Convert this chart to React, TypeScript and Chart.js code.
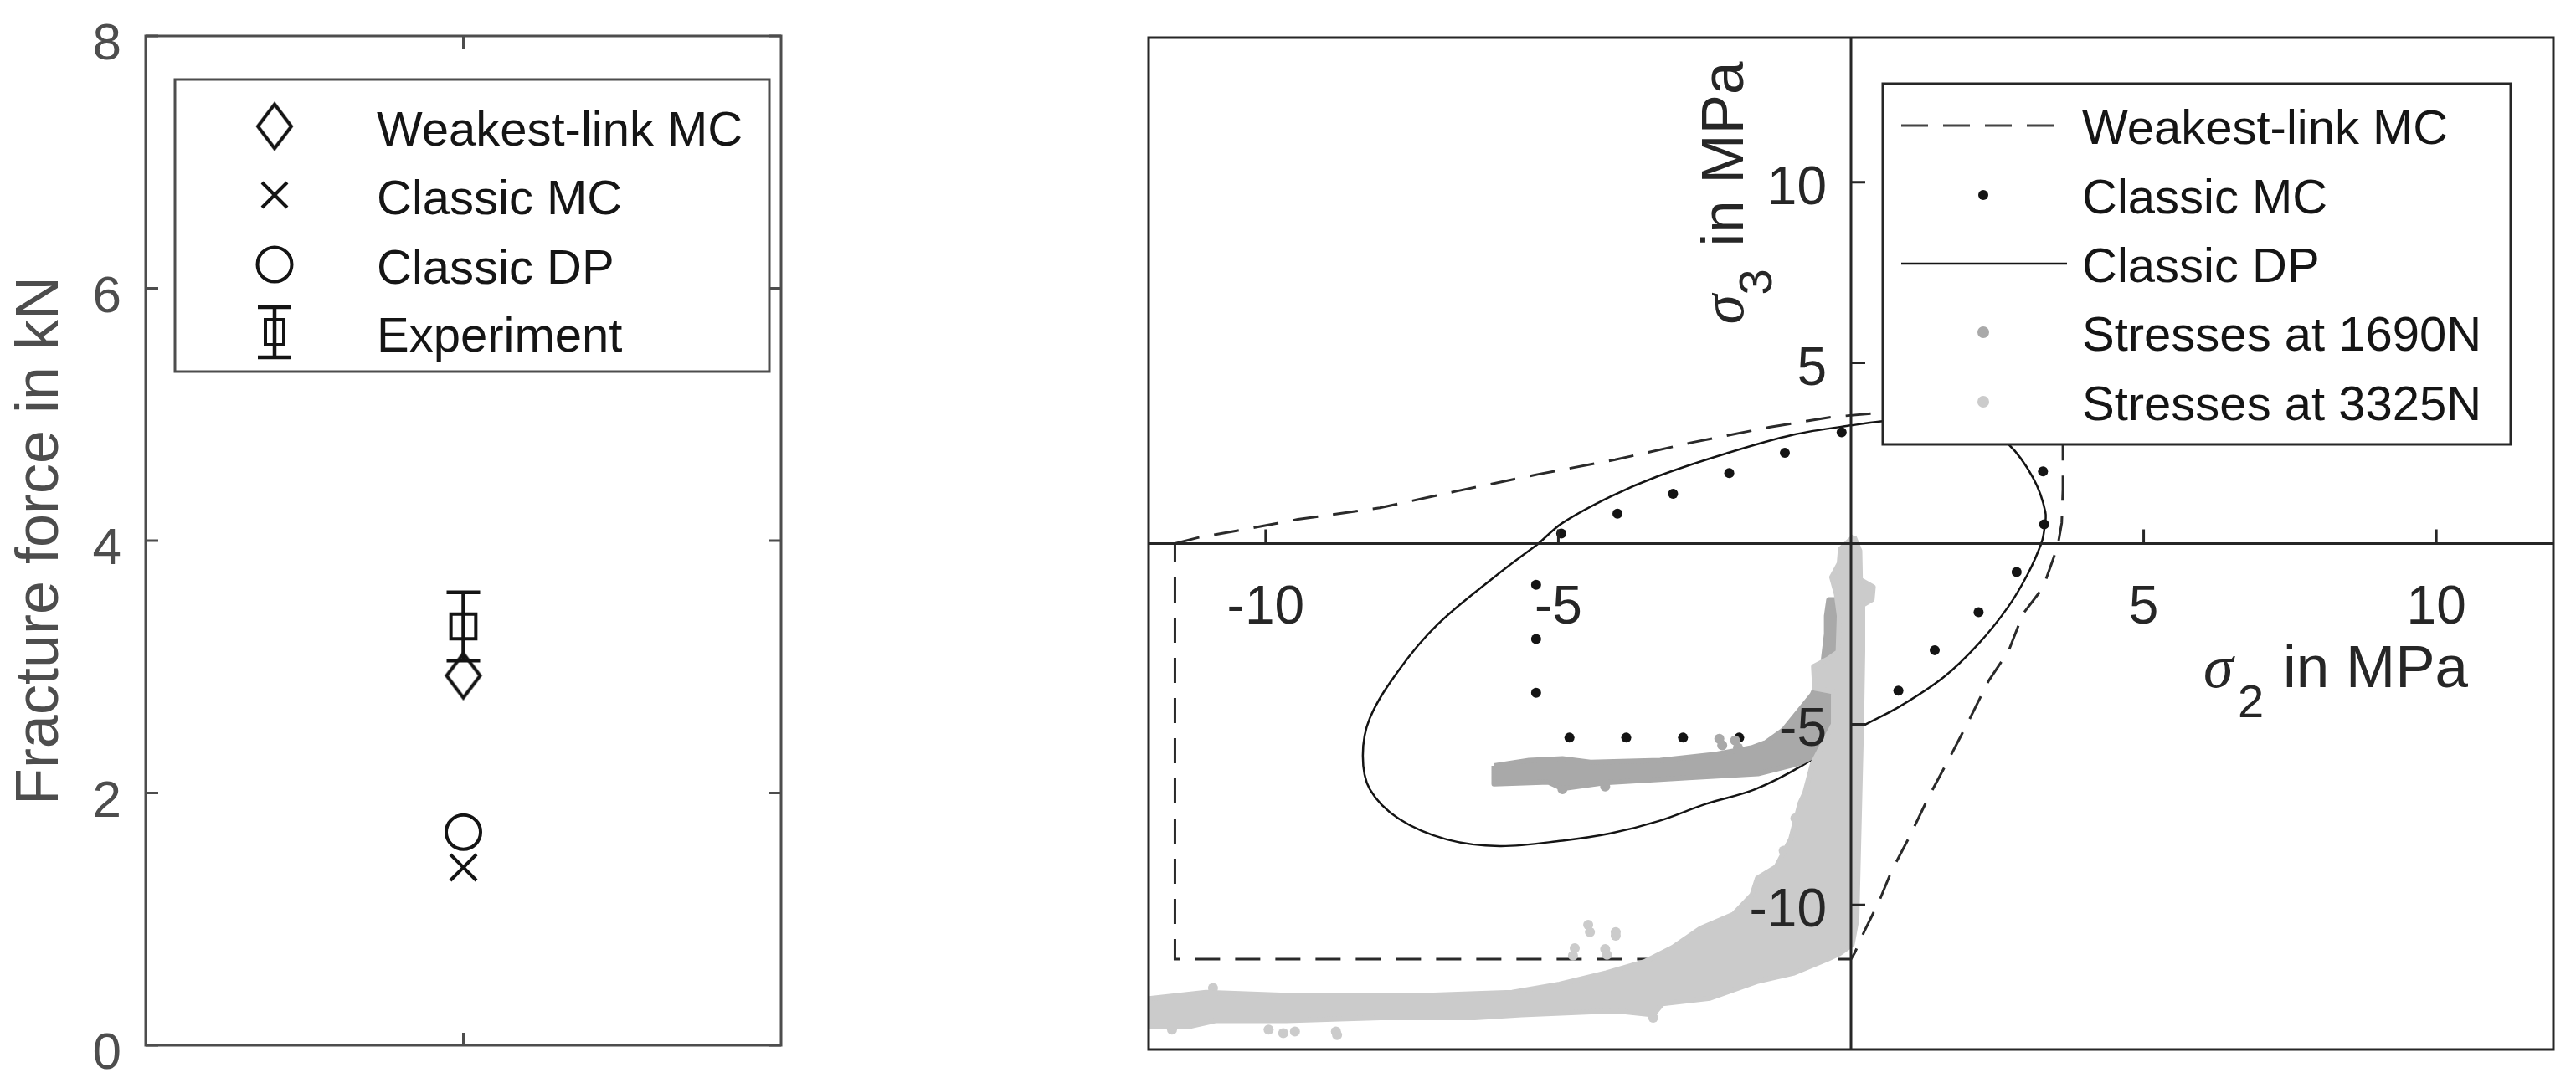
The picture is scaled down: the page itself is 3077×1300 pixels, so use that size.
import React, { useEffect, useRef } from 'react';
import { Chart, registerables } from 'chart.js';

Chart.register(...registerables);

// ================= Left panel: fracture forces (kN) =================
const leftCategory = [1];
const weakestLinkForce = [2.93];
const classicMCForce = [1.41];
const classicDPForce = [1.69];
const experimentForce = [3.32];
const experimentLow = [3.05];
const experimentHigh = [3.59];
const leftYTicks = [0, 2, 4, 6, 8];
const leftYTickLabels = ['0', '2', '4', '6', '8'];
const leftXTicks = [1];
const leftYTitle = 'Fracture force in kN';
const leftLegendLabels = ['Weakest-link MC', 'Classic MC', 'Classic DP', 'Experiment'];

// ================= Right panel: failure surfaces in sigma2-sigma3 plane (MPa) =================
const weakestLinkCurve: number[][] = [
  [-11.55, 0.0], [-11.17, 0.16], [-10.27, 0.42], [-9.45, 0.67], [-8.05, 0.99], [-6.74, 1.45],
  [-5.34, 1.92], [-4.03, 2.32], [-2.71, 2.8], [-1.4, 3.22], [-0.33, 3.5], [0.5, 3.62],
  [2.0, 3.65], [3.62, 3.65], [3.62, 2.6], [3.62, 1.5], [3.6, 0.57], [3.53, -0.08],
  [3.28, -1.22], [2.94, -1.94], [2.69, -2.98], [2.35, -3.8], [2.0, -4.94], [1.67, -5.97],
  [1.33, -7.0], [0.99, -8.14], [0.69, -9.07], [0.48, -9.9], [0.23, -10.72], [0.06, -11.34],
  [0.0, -11.5], [-11.55, -11.5], [-11.55, 0.0],
];

const classicMCPoints: number[][] = [
  [-4.95, 0.28], [-3.99, 0.83], [-3.04, 1.38], [-2.08, 1.95], [-1.13, 2.51], [-0.16, 3.08],
  [3.28, 2.0], [3.3, 0.53], [2.83, -0.79], [2.18, -1.9], [1.43, -2.95], [0.81, -4.07], [0.12, -5.25],
  [-5.38, -1.14], [-5.38, -2.64], [-5.38, -4.13],
  [-4.81, -5.37], [-3.84, -5.37], [-2.87, -5.37], [-1.91, -5.37], [-0.95, -5.37],
];

const classicDPCurve: number[][] = [
  [-5.34, 0.0], [-4.93, 0.57], [-4.11, 1.3], [-3.29, 1.87], [-2.14, 2.49], [-0.99, 3.01],
  [0.0, 3.27], [0.8, 3.42], [1.6, 3.4], [2.25, 3.15], [2.69, 2.75], [3.11, 1.82],
  [3.32, 0.88], [3.3, 0.36], [3.25, 0.0], [3.03, -0.81], [2.69, -1.74], [2.18, -2.77],
  [1.58, -3.7], [0.82, -4.52], [0.1, -5.14], [-0.82, -6.13], [-1.64, -6.8], [-2.47, -7.2],
  [-3.29, -7.68], [-4.11, -8.02], [-4.93, -8.22], [-6.0, -8.37], [-6.9, -8.19], [-7.72, -7.62],
  [-8.22, -6.8], [-8.34, -5.87], [-8.22, -4.83], [-7.72, -3.49], [-7.07, -2.25], [-6.08, -0.91],
  [-5.34, 0.0],
];

const stress1690Outline: number[][] = [
  [-6.1, -6.15], [-5.5, -6.0], [-4.93, -5.95], [-4.45, -6.05], [-3.26, -6.0], [-2.31, -5.83],
  [-1.7, -5.65], [-1.45, -5.5], [-1.15, -5.15], [-0.66, -4.17], [-0.5, -3.6], [-0.42, -2.5],
  [-0.42, -2.0], [-0.38, -1.55], [-0.17, -1.55], [-0.1, -2.5], [-0.1, -4.0], [-0.2, -5.0],
  [-0.3, -5.6], [-0.6, -5.85], [-0.88, -6.08], [-1.59, -6.37], [-2.78, -6.48], [-4.21, -6.62],
  [-4.93, -6.78], [-5.17, -6.6], [-6.1, -6.65], [-6.1, -6.15],
];
const stress1690Blobs: number[][] = [
  [-2.25, -5.4], [-2.2, -5.58], [-1.98, -5.45], [-1.93, -5.65], [-4.93, -6.8], [-4.2, -6.72],
  [-6.05, -6.3], [-5.95, -6.55], [-0.3, -1.7], [-0.28, -1.95],
];

const stress3325Outline: number[][] = [
  [0.05, 0.2], [0.15, -0.2], [0.16, -1.0], [0.38, -1.2], [0.36, -1.55], [0.2, -1.7],
  [0.2, -3.0], [0.18, -5.0], [0.15, -7.0], [0.12, -9.0], [0.1, -10.4], [0.02, -11.1],
  [-0.2, -11.35], [-0.4, -11.5], [-0.97, -11.88], [-1.61, -12.12], [-2.41, -12.58], [-3.22, -12.73],
  [-3.38, -13.04], [-4.02, -12.93], [-5.63, -13.04], [-6.43, -13.12], [-8.04, -13.12], [-9.65, -13.2],
  [-10.86, -13.2], [-11.26, -13.35], [-12.1, -13.35], [-12.1, -12.61], [-11.02, -12.42], [-9.65, -12.5],
  [-8.44, -12.5], [-7.23, -12.5], [-5.79, -12.42], [-4.98, -12.19], [-4.18, -11.88], [-3.53, -11.57],
  [-3.05, -11.18], [-2.57, -10.65], [-2.01, -10.26], [-1.69, -9.72], [-1.6, -9.26], [-1.28, -8.95],
  [-1.03, -8.18], [-0.87, -7.18], [-0.79, -6.9], [-0.66, -6.1], [-0.5, -5.6], [-0.3, -5.0],
  [-0.3, -4.1], [-0.62, -4.0], [-0.64, -3.4], [-0.4, -3.2], [-0.22, -3.0], [-0.2, -2.0],
  [-0.25, -1.4], [-0.33, -0.93], [-0.2, -0.54], [-0.18, -0.15], [0.05, 0.2],
];
const stress3325Blobs: number[][] = [
  [-4.49, -10.55], [-4.46, -10.75], [-4.02, -10.75], [-4.02, -10.85], [-4.72, -11.2], [-4.75, -11.4],
  [-4.2, -11.22], [-4.17, -11.38], [-9.95, -13.45], [-9.7, -13.55], [-9.5, -13.5], [-8.8, -13.5],
  [-8.78, -13.6], [-11.6, -13.45], [-3.38, -13.12], [-10.9, -12.3], [-0.95, -7.6], [-1.15, -8.5],
];

const rightXTicks = [-10, -5, 5, 10];
const rightXTickLabels = ['-10', '-5', '5', '10'];
const rightYTicks = [-10, -5, 5, 10];
const rightYTickLabels = ['-10', '-5', '5', '10'];
const sigmaSymbol = 'σ';
const xTitleSub = '2';
const yTitleSub = '3';
const titleUnit = 'in MPa';
const rightLegendLabels = ['Weakest-link MC', 'Classic MC', 'Classic DP', 'Stresses at 1690N', 'Stresses at 3325N'];

// ================= styles =================
const SANS = '"Liberation Sans", Arial, sans-serif';
const SERIF = '"Liberation Serif", "Times New Roman", serif';
const C_LEFT_AXIS = '#4d4d4d';
const C_RIGHT_AXIS = '#262626';
const C_MARK = '#141414';
const C_DASH = '#2a2a2a';
const C_1690 = '#a9a9a9';
const C_3325 = '#cbcbcb';
const C_TEXT = '#151515';

const toXY = (arr: number[][]) => arr.map(([x, y]) => ({ x, y }));

function makeDiamond(w: number, h: number, lw: number, color: string) {
  const c = document.createElement('canvas');
  c.width = Math.ceil(w + lw * 4);
  c.height = Math.ceil(h + lw * 4);
  const g = c.getContext('2d')!;
  g.strokeStyle = color;
  g.lineWidth = lw;
  g.lineJoin = 'miter';
  const cx = c.width / 2;
  const cy = c.height / 2;
  g.beginPath();
  g.moveTo(cx, cy - h / 2);
  g.lineTo(cx + w / 2, cy);
  g.lineTo(cx, cy + h / 2);
  g.lineTo(cx - w / 2, cy);
  g.closePath();
  g.stroke();
  return c;
}

function drawCross(ctx: CanvasRenderingContext2D, x: number, y: number, half: number) {
  ctx.beginPath();
  ctx.moveTo(x - half, y - half);
  ctx.lineTo(x + half, y + half);
  ctx.moveTo(x - half, y + half);
  ctx.lineTo(x + half, y - half);
  ctx.stroke();
}

function drawErrorBar(ctx: CanvasRenderingContext2D, x: number, yTop: number, yBot: number, capHalf: number) {
  ctx.beginPath();
  ctx.moveTo(x, yTop);
  ctx.lineTo(x, yBot);
  ctx.moveTo(x - capHalf, yTop);
  ctx.lineTo(x + capHalf, yTop);
  ctx.moveTo(x - capHalf, yBot);
  ctx.lineTo(x + capHalf, yBot);
  ctx.stroke();
}

function leftConfig(diamond: HTMLCanvasElement): any {
  const decor = {
    id: 'leftDecor',
    beforeDatasetsDraw(chart: any) {
      const { ctx } = chart;
      const xs = chart.scales.x;
      const ys = chart.scales.y;
      ctx.save();
      ctx.strokeStyle = C_MARK;
      ctx.lineWidth = 4.5;
      experimentForce.forEach((_, i) => {
        drawErrorBar(ctx, xs.getPixelForValue(leftCategory[i]), ys.getPixelForValue(experimentHigh[i]), ys.getPixelForValue(experimentLow[i]), 20);
      });
      ctx.restore();
    },
    afterDatasetsDraw(chart: any) {
      const { ctx, chartArea: a } = chart;
      const xs = chart.scales.x;
      const ys = chart.scales.y;
      ctx.save();
      ctx.strokeStyle = C_LEFT_AXIS;
      ctx.lineWidth = 3;
      ctx.strokeRect(a.left, a.top, a.right - a.left, a.bottom - a.top);
      ctx.beginPath();
      leftYTicks.forEach((v) => {
        const y = ys.getPixelForValue(v);
        ctx.moveTo(a.left, y);
        ctx.lineTo(a.left + 15, y);
        ctx.moveTo(a.right, y);
        ctx.lineTo(a.right - 15, y);
      });
      leftXTicks.forEach((v) => {
        const x = xs.getPixelForValue(v);
        ctx.moveTo(x, a.bottom);
        ctx.lineTo(x, a.bottom - 15);
        ctx.moveTo(x, a.top);
        ctx.lineTo(x, a.top + 15);
      });
      ctx.stroke();
      ctx.fillStyle = C_LEFT_AXIS;
      ctx.font = `62px ${SANS}`;
      ctx.textAlign = 'right';
      ctx.textBaseline = 'alphabetic';
      leftYTicks.forEach((v, i) => {
        ctx.fillText(leftYTickLabels[i], a.left - 29, ys.getPixelForValue(v) + 28);
      });
      ctx.save();
      ctx.translate(69, (a.top + a.bottom) / 2);
      ctx.rotate(-Math.PI / 2);
      ctx.font = `72px ${SANS}`;
      ctx.textAlign = 'center';
      ctx.fillText(leftYTitle, 0, 0);
      ctx.restore();
      ctx.restore();
    },
    afterDraw(chart: any) {
      const { ctx } = chart;
      ctx.save();
      const box = { l: 209, t: 95, r: 919, b: 444 };
      ctx.fillStyle = '#ffffff';
      ctx.fillRect(box.l, box.t, box.r - box.l, box.b - box.t);
      ctx.strokeStyle = C_LEFT_AXIS;
      ctx.lineWidth = 3;
      ctx.strokeRect(box.l, box.t, box.r - box.l, box.b - box.t);
      const rows = [151, 233, 316, 397];
      const mx = 328;
      ctx.strokeStyle = C_MARK;
      ctx.lineWidth = 4;
      ctx.drawImage(diamond, mx - diamond.width / 2, rows[0] - diamond.height / 2);
      drawCross(ctx, mx, rows[1], 15);
      ctx.beginPath();
      ctx.arc(mx, rows[2], 20.5, 0, Math.PI * 2);
      ctx.stroke();
      ctx.lineWidth = 4.5;
      drawErrorBar(ctx, mx, rows[3] - 30, rows[3] + 30, 20);
      ctx.lineWidth = 4;
      ctx.strokeRect(mx - 11, rows[3] - 15, 22, 30);
      ctx.fillStyle = C_TEXT;
      ctx.font = `58px ${SANS}`;
      ctx.textAlign = 'left';
      ctx.textBaseline = 'alphabetic';
      leftLegendLabels.forEach((t, i) => ctx.fillText(t, 450, rows[i] + 23));
      ctx.restore();
    },
  };

  return {
    type: 'scatter',
    data: {
      datasets: [
        {
          label: leftLegendLabels[0],
          data: leftCategory.map((x, i) => ({ x, y: weakestLinkForce[i] })),
          pointStyle: diamond,
          pointRadius: 30,
        },
        {
          label: leftLegendLabels[1],
          data: leftCategory.map((x, i) => ({ x, y: classicMCForce[i] })),
          pointStyle: 'crossRot',
          pointRadius: 22,
          pointBorderWidth: 4,
          pointBorderColor: C_MARK,
          pointBackgroundColor: 'rgba(0,0,0,0)',
        },
        {
          label: leftLegendLabels[2],
          data: leftCategory.map((x, i) => ({ x, y: classicDPForce[i] })),
          pointStyle: 'circle',
          pointRadius: 20.5,
          pointBorderWidth: 4,
          pointBorderColor: C_MARK,
          pointBackgroundColor: 'rgba(0,0,0,0)',
        },
        {
          label: leftLegendLabels[3],
          data: leftCategory.map((x, i) => ({ x, y: experimentForce[i] })),
          pointStyle: 'rect',
          pointRadius: 21,
          pointBorderWidth: 4,
          pointBorderColor: C_MARK,
          pointBackgroundColor: 'rgba(0,0,0,0)',
        },
      ],
    },
    options: {
      animation: false,
      responsive: false,
      devicePixelRatio: 1,
      events: [],
      layout: { padding: { left: 174, top: 43, right: 1100 - 933, bottom: 1300 - 1249 } },
      scales: {
        x: { type: 'linear', min: 0, max: 2, display: false },
        y: { type: 'linear', min: 0, max: 8, display: false },
      },
      plugins: { legend: { display: false }, tooltip: { enabled: false } },
    },
    plugins: [decor],
  };
}

function rightConfig(): any {
  const decor = {
    id: 'rightDecor',
    afterDatasetsDraw(chart: any) {
      const { ctx, chartArea: a } = chart;
      const xs = chart.scales.x;
      const ys = chart.scales.y;
      const x0 = xs.getPixelForValue(0);
      const y0 = ys.getPixelForValue(0);
      ctx.save();
      ctx.strokeStyle = C_RIGHT_AXIS;
      ctx.lineWidth = 3;
      ctx.strokeRect(a.left, a.top, a.right - a.left, a.bottom - a.top);
      ctx.beginPath();
      ctx.moveTo(x0, a.top);
      ctx.lineTo(x0, a.bottom);
      ctx.moveTo(a.left, y0);
      ctx.lineTo(a.right, y0);
      rightXTicks.forEach((v) => {
        const px = xs.getPixelForValue(v);
        ctx.moveTo(px, y0);
        ctx.lineTo(px, y0 - 17);
      });
      rightYTicks.forEach((v) => {
        const py = ys.getPixelForValue(v);
        ctx.moveTo(x0, py);
        ctx.lineTo(x0 + 17, py);
      });
      ctx.stroke();

      ctx.fillStyle = C_RIGHT_AXIS;
      ctx.font = `64px ${SANS}`;
      ctx.textBaseline = 'alphabetic';
      ctx.textAlign = 'center';
      rightXTicks.forEach((v, i) => ctx.fillText(rightXTickLabels[i], xs.getPixelForValue(v), y0 + 95));
      ctx.textAlign = 'right';
      rightYTicks.forEach((v, i) => ctx.fillText(rightYTickLabels[i], x0 - 29, ys.getPixelForValue(v) + 26));

      // x title: sigma_2 in MPa
      ctx.textAlign = 'left';
      ctx.font = `italic 72px ${SERIF}`;
      ctx.fillText(sigmaSymbol, x0 + 421, y0 + 171);
      ctx.font = `56px ${SANS}`;
      ctx.fillText(xTitleSub, x0 + 462, y0 + 207);
      ctx.font = `71px ${SANS}`;
      ctx.fillText(titleUnit, x0 + 516, y0 + 171);

      // y title: sigma_3 in MPa (rotated)
      ctx.save();
      ctx.translate(x0 - 129, y0 - 262);
      ctx.rotate(-Math.PI / 2);
      ctx.font = `italic 72px ${SERIF}`;
      ctx.fillText(sigmaSymbol, 0, 0);
      ctx.font = `56px ${SANS}`;
      ctx.fillText(yTitleSub, 35, 34);
      ctx.font = `71px ${SANS}`;
      ctx.fillText(titleUnit, 93, 0);
      ctx.restore();
      ctx.restore();
    },
    afterDraw(chart: any) {
      const { ctx } = chart;
      ctx.save();
      const box = { l: 1149, t: 100, r: 1899, b: 531 };
      ctx.fillStyle = '#ffffff';
      ctx.fillRect(box.l, box.t, box.r - box.l, box.b - box.t);
      ctx.strokeStyle = C_RIGHT_AXIS;
      ctx.lineWidth = 3;
      ctx.strokeRect(box.l, box.t, box.r - box.l, box.b - box.t);
      const rows = [150, 233, 315, 397, 480];
      ctx.strokeStyle = '#444444';
      ctx.lineWidth = 3;
      ctx.setLineDash([32, 18]);
      ctx.beginPath();
      ctx.moveTo(1171, rows[0]);
      ctx.lineTo(1354, rows[0]);
      ctx.stroke();
      ctx.setLineDash([]);
      ctx.fillStyle = C_MARK;
      ctx.beginPath();
      ctx.arc(1269, rows[1], 6, 0, Math.PI * 2);
      ctx.fill();
      ctx.strokeStyle = C_MARK;
      ctx.lineWidth = 2.5;
      ctx.beginPath();
      ctx.moveTo(1171, rows[2]);
      ctx.lineTo(1369, rows[2]);
      ctx.stroke();
      ctx.fillStyle = C_1690;
      ctx.beginPath();
      ctx.arc(1269, rows[3], 7, 0, Math.PI * 2);
      ctx.fill();
      ctx.fillStyle = C_3325;
      ctx.beginPath();
      ctx.arc(1269, rows[4], 7, 0, Math.PI * 2);
      ctx.fill();
      ctx.fillStyle = C_TEXT;
      ctx.font = `58px ${SANS}`;
      ctx.textAlign = 'left';
      ctx.textBaseline = 'alphabetic';
      rightLegendLabels.forEach((t, i) => ctx.fillText(t, 1387, rows[i] + 22));
      ctx.restore();
    },
  };

  return {
    type: 'scatter',
    data: {
      datasets: [
        {
          label: rightLegendLabels[4],
          data: toXY(stress3325Outline),
          showLine: true,
          fill: 'shape',
          backgroundColor: C_3325,
          borderColor: C_3325,
          borderWidth: 6,
          borderJoinStyle: 'round',
          pointRadius: 0,
          order: 0,
        },
        {
          label: rightLegendLabels[4] + ' (scattered)',
          data: toXY(stress3325Blobs),
          pointRadius: 6,
          pointBorderWidth: 0,
          pointBackgroundColor: C_3325,
          order: 1,
        },
        {
          label: rightLegendLabels[3],
          data: toXY(stress1690Outline),
          showLine: true,
          fill: 'shape',
          backgroundColor: C_1690,
          borderColor: C_1690,
          borderWidth: 6,
          borderJoinStyle: 'round',
          pointRadius: 0,
          order: 2,
        },
        {
          label: rightLegendLabels[3] + ' (scattered)',
          data: toXY(stress1690Blobs),
          pointRadius: 6,
          pointBorderWidth: 0,
          pointBackgroundColor: C_1690,
          order: 3,
        },
        {
          label: rightLegendLabels[1],
          data: toXY(classicMCPoints),
          pointRadius: 6,
          pointBorderWidth: 0,
          pointBackgroundColor: C_MARK,
          order: 4,
        },
        {
          label: rightLegendLabels[2],
          data: toXY(classicDPCurve),
          showLine: true,
          borderColor: C_MARK,
          borderWidth: 2.5,
          tension: 0.35,
          pointRadius: 0,
          order: 5,
        },
        {
          label: rightLegendLabels[0],
          data: toXY(weakestLinkCurve),
          showLine: true,
          borderColor: C_DASH,
          borderWidth: 3,
          borderDash: [30, 18],
          pointRadius: 0,
          order: 6,
        },
      ],
    },
    options: {
      animation: false,
      responsive: false,
      devicePixelRatio: 1,
      events: [],
      layout: { padding: { left: 272, top: 45, right: 27, bottom: 46 } },
      scales: {
        x: { type: 'linear', min: -12, max: 12, display: false },
        y: { type: 'linear', min: -14, max: 14, display: false },
      },
      plugins: { legend: { display: false }, tooltip: { enabled: false } },
    },
    plugins: [decor],
  };
}

export default function App() {
  const leftRef = useRef<HTMLCanvasElement>(null);
  const rightRef = useRef<HTMLCanvasElement>(null);

  useEffect(() => {
    document.body.style.margin = '0';
    const diamond = makeDiamond(40, 53, 4, C_MARK);
    const left = new Chart(leftRef.current as HTMLCanvasElement, leftConfig(diamond));
    const right = new Chart(rightRef.current as HTMLCanvasElement, rightConfig());
    return () => {
      left.destroy();
      right.destroy();
    };
  }, []);

  return (
    <div style={{ position: 'fixed', left: 0, top: 0, width: 3077, height: 1300, background: '#ffffff', overflow: 'hidden' }}>
      <canvas
        ref={leftRef}
        width={1100}
        height={1300}
        style={{ position: 'absolute', left: 0, top: 0, width: 1100, height: 1300 }}
      />
      <canvas
        ref={rightRef}
        width={1977}
        height={1300}
        style={{ position: 'absolute', left: 1100, top: 0, width: 1977, height: 1300 }}
      />
    </div>
  );
}
